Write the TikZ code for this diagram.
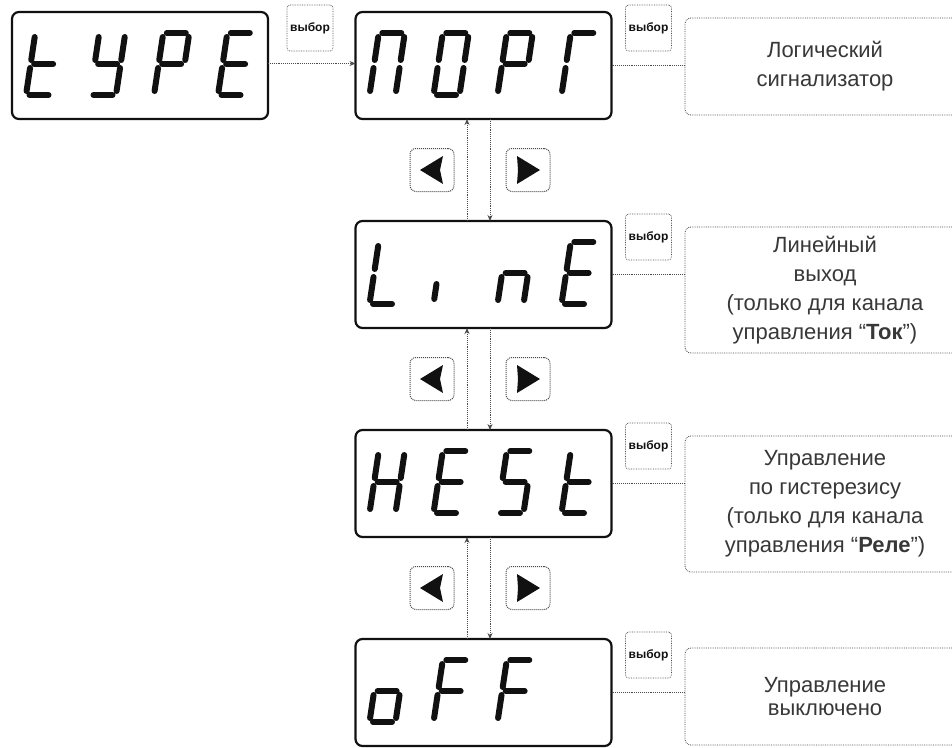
\documentclass[tikz,border=0pt]{standalone}
\usepackage{fontspec}
\setmainfont{Liberation Sans}
\usepackage{xcolor}
\usetikzlibrary{arrows.meta, positioning, calc}
\definecolor{DispInk}{HTML}{111111}
\definecolor{DotInk}{HTML}{4A4A4A}
\definecolor{TextInk}{HTML}{383838}

% segments of one digit: width 26, height 62
\pgfkeys{/seg/.cd,
  a/.code={\draw[segline] (3.5,62) -- (22.5,62);},
  b/.code={\draw[segline] (26,58) -- (26,35);},
  c/.code={\draw[segline] (26,27) -- (26,4);},
  d/.code={\draw[segline] (3.5,0) -- (22.5,0);},
  e/.code={\draw[segline] (0,27) -- (0,4);},
  f/.code={\draw[segline] (0,58) -- (0,35);},
  g/.code={\draw[segline] (3.5,31) -- (22.5,31);},
  i/.code={\draw[segline] (0,20) -- (0,5);}}
\newcommand\sevseg[3]{% display, slot, segments
  \begin{scope}[shift={($(#1.south west)+(#2*64+14,24)$)}, xslant=0.15]
    \pgfkeys{/seg/.cd, #3}
  \end{scope}}

\begin{document}
\begin{tikzpicture}[x=1pt, y=1pt, >={Stealth[length=6pt, width=5pt]},
  disp/.style={draw=DispInk, line width=2.2pt, rounded corners=7pt,
    minimum width=256pt, minimum height=107pt, outer sep=0pt},
  segline/.style={DispInk, line width=6pt, line cap=round},
  selbtn/.style={draw=DotInk, densely dotted, line width=0.7pt, rounded corners=3pt,
    minimum width=46pt, minimum height=46pt, inner sep=0pt,
    font=\bfseries\fontsize{12}{12}\selectfont, text=DispInk},
  navbtn/.style={draw=DotInk, densely dotted, line width=1pt, rounded corners=6pt,
    minimum width=44pt, minimum height=43pt},
  infobox/.style={draw=DotInk, densely dotted, line width=0.8pt, rounded corners=6pt,
    minimum width=280pt, align=center, text=TextInk,
    font=\fontsize{22}{29}\selectfont},
  link/.style={DotInk, densely dotted, line width=0.9pt}]

\fill[white] (0,0) rectangle (952,-747);
\useasboundingbox (0,0) rectangle (952,-747);

% displays
\node[disp] (disp0) at (140,-65.5) {};
\node[disp] (disp1) at (483.5,-65.5) {};
\node[disp, below=102pt of disp1] (disp2) {};
\node[disp, below=102pt of disp2] (disp3) {};
\node[disp, below=102pt of disp3] (disp4) {};

\sevseg{disp0}{0}{f,e,g,d}
\sevseg{disp0}{1}{f,b,g,c,d}
\sevseg{disp0}{2}{a,b,f,g,e}
\sevseg{disp0}{3}{a,f,g,e,d}

\sevseg{disp1}{0}{a,b,c,e,f}
\sevseg{disp1}{1}{a,b,c,d,e,f}
\sevseg{disp1}{2}{a,b,f,g,e}
\sevseg{disp1}{3}{a,f,e}

\sevseg{disp2}{0}{f,e,d}
\sevseg{disp2}{1}{i}
\sevseg{disp2}{2}{e,g,c}
\sevseg{disp2}{3}{a,f,g,e,d}

\sevseg{disp3}{0}{f,e,g,b,c}
\sevseg{disp3}{1}{a,f,g,e,d}
\sevseg{disp3}{2}{a,f,g,c,d}
\sevseg{disp3}{3}{f,e,g,d}

\sevseg{disp4}{0}{e,g,c,d}
\sevseg{disp4}{1}{a,f,g,e}
\sevseg{disp4}{2}{a,f,g,e}

% select buttons
\node[selbtn] (sel0) at ($(disp0.north east)+(42,-16)$) {выбор};
\node[selbtn] (sel1) at ($(disp1.north east)+(37,-16)$) {выбор};
\node[selbtn] (sel2) at ($(disp2.north east)+(37,-16)$) {выбор};
\node[selbtn] (sel3) at ($(disp3.north east)+(37,-16)$) {выбор};
\node[selbtn] (sel4) at ($(disp4.north east)+(37,-16)$) {выбор};

% descriptions
\node[infobox, minimum height=97pt] (txt1) at (825,-66.5)
  {Логический\\сигнализатор};
\node[infobox, minimum height=126pt] (txt2) at (825,-290)
  {Линейный\\выход\\(только для канала\\управления “\textbf{Ток}”)};
\node[infobox, minimum height=136pt] (txt3) at (825,-504)
  {Управление\\по гистерезису\\(только для канала\\управления “\textbf{Реле}”)};
\node[infobox, minimum height=97pt, font=\fontsize{22}{23}\selectfont] (txt4) at (825,-696.5)
  {Управление\\выключено};

% arrow buttons and up/down links
\foreach \a/\b in {1/2, 2/3, 3/4} {
  \node[navbtn] (lt\a) at ($(disp\a.south)!.5!(disp\b.north)+(-51.5,0)$) {};
  \node[navbtn] (rt\a) at ($(disp\a.south)!.5!(disp\b.north)+(44.5,0)$) {};
  \fill[DispInk] ([xshift=-12]lt\a.center) -- ([xshift=11, yshift=14]lt\a.center)
    -- ([xshift=8]lt\a.center) -- ([xshift=11, yshift=-14]lt\a.center) -- cycle;
  \fill[DispInk] ([xshift=12]rt\a.center) -- ([xshift=-11, yshift=14]rt\a.center)
    -- ([xshift=-10]rt\a.center) -- ([xshift=-11, yshift=-14]rt\a.center) -- cycle;
  \draw[link, ->] ([xshift=-16.5]disp\b.north) -- ([xshift=-16.5]disp\a.south);
  \draw[link, ->] ([xshift=6.5]disp\a.south) -- ([xshift=6.5]disp\b.north);
}

% horizontal links
\draw[link, ->] ([yshift=2]disp0.east) -- ([yshift=2]disp1.west);
\draw[link] (disp1.east) -- (disp1.east -| txt1.west);
\draw[link] (disp2.east) -- (disp2.east -| txt2.west);
\draw[link] (disp3.east) -- (disp3.east -| txt3.west);
\draw[link] (disp4.east) -- (disp4.east -| txt4.west);
\end{tikzpicture}
\end{document}
